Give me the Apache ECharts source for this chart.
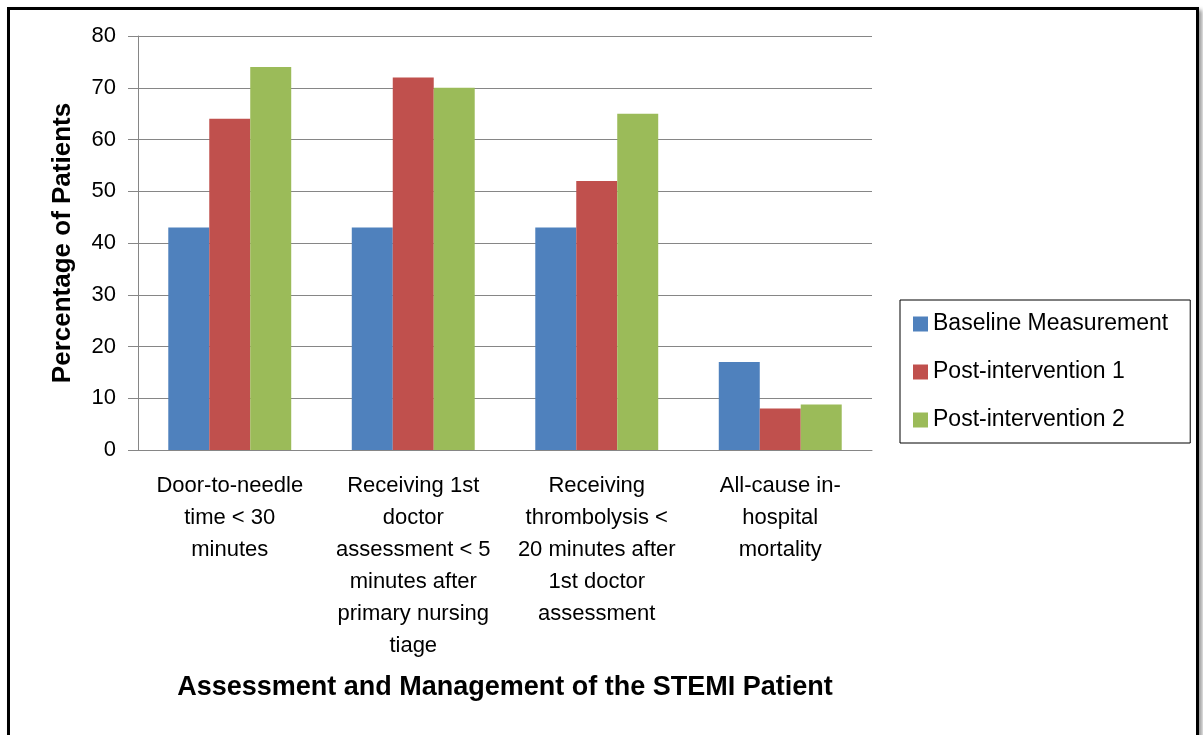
<!DOCTYPE html>
<html>
<head>
<meta charset="utf-8">
<script src="https://cdn.jsdelivr.net/npm/echarts@6/dist/echarts.min.js"></script>
<style>
  html, body { margin: 0; padding: 0; background: #fff; }
  #frame {
    position: absolute; left: 7px; top: 7px; width: 1186px; height: 760px;
    border: 3px solid #000; box-shadow: 3px 3px 4px #999; background: #fff;
  }
  #main { position: absolute; left: 0; top: 0; width: 1203px; height: 735px; }
</style>
</head>
<body>
<div id="frame"></div>
<div id="main"></div>
<script>
const categories = [
    'Door-to-needle\ntime < 30\nminutes',
    'Receiving 1st\ndoctor\nassessment < 5\nminutes after\nprimary nursing\ntiage',
    'Receiving\nthrombolysis <\n20 minutes after\n1st doctor\nassessment',
    'All-cause in-\nhospital\nmortality'
]
const baseline = [43, 43, 43, 17]
const post1 = [64, 72, 52, 8]
const post2 = [74, 70, 65, 8.8]
const yTicks = [0, 10, 20, 30, 40, 50, 60, 70, 80]

const chartDom = document.getElementById('main')
const myChart = echarts.init(chartDom)

const font = 'Liberation Sans'

const option = {
    animation: false,
    textStyle: { fontFamily: font },
    grid: { left: 138, right: 331, top: 36, bottom: 285 },
    legend: {
        orient: 'vertical',
        left: 900,
        top: 300,
        padding: [12, 22, 11, 13],
        itemGap: 24,
        itemWidth: 15,
        itemHeight: 15,
        icon: 'rect',
        borderColor: '#000',
        borderWidth: 1,
        textStyle: { fontSize: 23, lineHeight: 24, color: '#000', fontFamily: font },
        data: ['Baseline Measurement', 'Post-intervention 1', 'Post-intervention 2']
    },
    xAxis: {
        type: 'category',
        data: categories,
        name: 'Assessment and Management of the STEMI Patient',
        nameLocation: 'middle',
        nameGap: 224,
        nameTextStyle: { fontSize: 27, fontWeight: 'bold', color: '#000', fontFamily: font },
        axisLine: { lineStyle: { color: '#868686' } },
        axisTick: { show: false },
        axisLabel: { fontSize: 22, color: '#000', lineHeight: 32, margin: 20, interval: 0 }
    },
    yAxis: {
        type: 'value',
        min: yTicks[0],
        max: yTicks[yTicks.length - 1],
        interval: 10,
        name: 'Percentage of Patients',
        nameLocation: 'middle',
        nameGap: 62,
        nameTextStyle: { fontSize: 26, fontWeight: 'bold', color: '#000', fontFamily: font },
        axisLine: { show: true, lineStyle: { color: '#868686' } },
        axisTick: { show: true, length: 10, lineStyle: { color: '#868686' } },
        axisLabel: { fontSize: 22, color: '#000', margin: 22 },
        splitLine: { lineStyle: { color: '#868686', width: 1 } }
    },
    series: [
        { name: 'Baseline Measurement', type: 'bar', data: baseline, barGap: '0%', barCategoryGap: '33%',
          itemStyle: { color: '#4F81BD' } },
        { name: 'Post-intervention 1', type: 'bar', data: post1, barGap: '0%', barCategoryGap: '33%',
          itemStyle: { color: '#C0504D' } },
        { name: 'Post-intervention 2', type: 'bar', data: post2, barGap: '0%', barCategoryGap: '33%',
          itemStyle: { color: '#9BBB59' } }
    ]
}

myChart.setOption(option)
</script>
</body>
</html>
